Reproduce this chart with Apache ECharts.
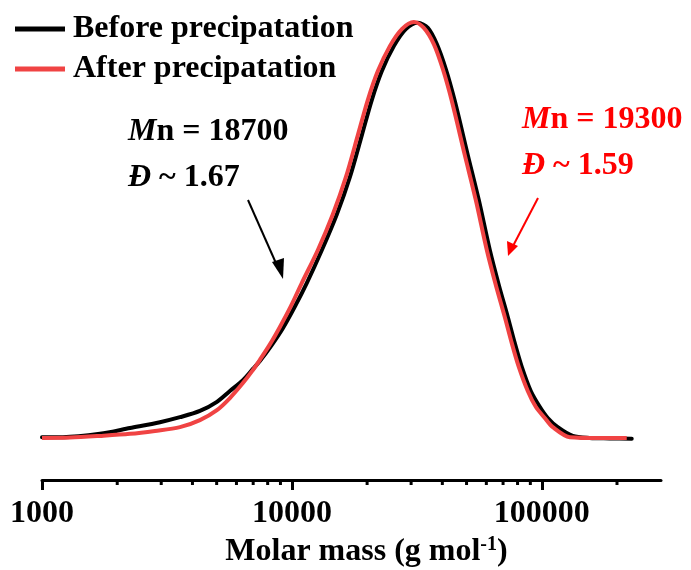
<!DOCTYPE html>
<html>
<head>
<meta charset="utf-8">
<script src="https://cdn.jsdelivr.net/npm/echarts@6/dist/echarts.min.js"></script>
<style>
  html, body { margin: 0; padding: 0; background: #fff; }
  #chart { width: 691px; height: 570px; }
</style>
</head>
<body>
<div id="chart"></div>
<script>
// molar mass (g/mol) and normalised signal
var beforeMass = [1000, 1213, 1706, 2249, 2965, 3565, 4285, 5012, 5649, 6368, 6982, 7447, 8318, 9204,
  10280, 11482, 13183, 15136, 17061, 19055, 20893, 22909, 25586, 28576, 31915,
  34995, 38019, 41305, 44875, 50582, 55976, 61944, 67298, 73114, 77983, 83176, 90365,
  98175, 105681, 115878, 133045, 155597, 187068, 229087];
var beforeSignal = [0.002, 0.002, 0.010, 0.024, 0.038, 0.050, 0.065, 0.087, 0.113, 0.139, 0.166, 0.185, 0.224, 0.264,
  0.316, 0.373, 0.452, 0.538, 0.627, 0.728, 0.813, 0.882, 0.942, 0.983, 0.998,
  0.986, 0.947, 0.887, 0.810, 0.680, 0.572, 0.452, 0.368, 0.291, 0.228, 0.171, 0.113,
  0.075, 0.048, 0.026, 0.005, 0, -0.001, -0.002];

var afterMass = [1000, 1294, 1706, 2249, 2831, 3565, 4285, 5012, 5649, 6368, 6918, 7447, 8166, 8954,
  9908, 10965, 12706, 14588, 16444, 18365, 20137, 22080, 24660, 27542, 30761,
  33729, 36983, 40179, 43652, 49204, 54450, 60256, 65464, 71121, 75858, 80910, 87902,
  94624, 102802, 110662, 129420, 170608, 218776];
var afterSignal = [0, 0.001, 0.005, 0.010, 0.017, 0.026, 0.043, 0.067, 0.096, 0.132, 0.160, 0.188, 0.225, 0.267,
  0.317, 0.373, 0.452, 0.538, 0.627, 0.728, 0.813, 0.882, 0.942, 0.983, 1.0,
  0.986, 0.947, 0.887, 0.810, 0.680, 0.572, 0.452, 0.368, 0.291, 0.228, 0.171, 0.113,
  0.075, 0.048, 0.026, 0.002, 0, 0];

var minorTicks = [2000, 3000, 4000, 5000, 6000, 7000, 8000, 9000,
  20000, 30000, 40000, 50000, 60000, 70000, 80000, 90000, 200000];

var seriesNames = ['Before precipatation', 'After precipatation'];

var font = "'Liberation Serif', 'Times New Roman', serif";
var red = '#f04343';
var yMin = -0.101;

function pairs(xs, ys) {
  return xs.map(function (x, i) { return [x, ys[i]]; });
}

var chart = echarts.init(document.getElementById('chart'));

var option = {
  animation: false,
  textStyle: { fontFamily: font },
  grid: { left: 42, right: 30, top: 22, bottom: 90, containLabel: false, outerBoundsMode: 'none' },
  legend: {
    data: seriesNames,
    orient: 'vertical',
    left: 15,
    top: 12,
    padding: 0,
    icon: 'rect',
    itemWidth: 50,
    itemHeight: 5,
    itemGap: 6,
    textStyle: { fontFamily: font, fontSize: 32, fontWeight: 'bold', color: '#000', lineHeight: 34, padding: [0, 0, 0, 3] }
  },
  xAxis: {
    type: 'log',
    logBase: 10,
    min: 1000,
    max: 300000,
    name: '{a|Molar mass (g mol}{s|-1}{a|)}',
    nameLocation: 'middle',
    nameGap: 55,
    nameTextStyle: {
      padding: [0, 0, 0, 30],
      rich: {
        a: { fontFamily: font, fontSize: 32, fontWeight: 'bold', color: '#000', lineHeight: 34 },
        s: { fontFamily: font, fontSize: 20, fontWeight: 'bold', color: '#000', verticalAlign: 'top', lineHeight: 24 }
      }
    },
    axisLine: { onZero: false, lineStyle: { color: '#000', width: 3 } },
    axisTick: { inside: false, length: 10, lineStyle: { color: '#000', width: 3 } },
    axisLabel: {
      margin: 18,
      fontFamily: font, fontSize: 32, fontWeight: 'bold', color: '#000',
      showMaxLabel: false,
      formatter: function (v) { return String(Math.round(v)); }
    },
    splitLine: { show: false }
  },
  yAxis: {
    type: 'value',
    min: yMin,
    max: 1,
    show: false
  },
  series: [
    {
      name: seriesNames[0],
      type: 'line',
      data: pairs(beforeMass, beforeSignal),
      showSymbol: false,
      smooth: 0.3,
      lineStyle: { color: '#000', width: 4, cap: 'round' },
      itemStyle: { color: '#000' }
    },
    {
      name: seriesNames[1],
      type: 'line',
      data: pairs(afterMass, afterSignal),
      showSymbol: false,
      smooth: 0.3,
      lineStyle: { color: red, width: 4 },
      itemStyle: { color: red }
    },
    {
      // minor ticks 2..9 of each decade
      type: 'custom',
      clip: false,
      silent: true,
      data: minorTicks,
      renderItem: function (params, api) {
        var p = api.coord([api.value(0), yMin]);
        return {
          type: 'line',
          shape: { x1: p[0], y1: p[1], x2: p[0], y2: p[1] + 5 },
          style: { stroke: '#000', lineWidth: 3 }
        };
      },
      encode: { x: 0 }
    }
  ],
  graphic: [
    {
      type: 'text', left: 128, top: 116,
      style: {
        text: '{i|M}{b|n = 18700}\n{i|Đ}{b| ~ 1.67}',
        rich: {
          i: { fontFamily: font, fontSize: 32, fontWeight: 'bold', fontStyle: 'italic', fill: '#000', lineHeight: 46 },
          b: { fontFamily: font, fontSize: 32, fontWeight: 'bold', fill: '#000', lineHeight: 46 }
        }
      }
    },
    {
      type: 'text', left: 522, top: 104,
      style: {
        text: '{i|M}{b|n = 19300}\n{i|Đ}{b| ~ 1.59}',
        rich: {
          i: { fontFamily: font, fontSize: 32, fontWeight: 'bold', fontStyle: 'italic', fill: '#ff0000', lineHeight: 46 },
          b: { fontFamily: font, fontSize: 32, fontWeight: 'bold', fill: '#ff0000', lineHeight: 46 }
        }
      }
    },
    { type: 'line', shape: { x1: 248, y1: 200, x2: 279, y2: 270 }, style: { stroke: '#000', lineWidth: 2 } },
    { type: 'polygon', shape: { points: [[283, 279], [272, 262], [284, 258]] }, style: { fill: '#000' } },
    { type: 'line', shape: { x1: 538, y1: 198, x2: 513, y2: 246 }, style: { stroke: '#ff0000', lineWidth: 2 } },
    { type: 'polygon', shape: { points: [[508, 256], [507, 241], [518, 246]] }, style: { fill: '#ff0000' } }
  ]
};

chart.setOption(option);
</script>
</body>
</html>
